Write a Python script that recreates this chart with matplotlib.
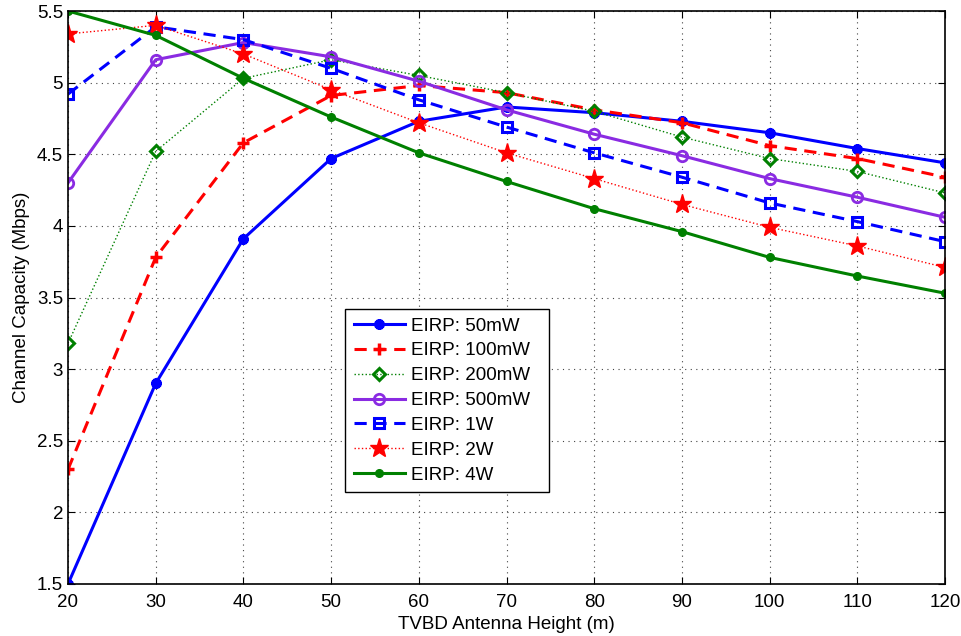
import numpy as np
import matplotlib.pyplot as plt

plt.rcParams['font.family'] = ['Liberation Sans', 'DejaVu Sans']

height = [20, 30, 40, 50, 60, 70, 80, 90, 100, 110, 120]

cap_50mw = [1.50, 2.90, 3.91, 4.47, 4.73, 4.83, 4.79, 4.73, 4.65, 4.54, 4.44]
cap_100mw = [2.30, 3.78, 4.58, 4.91, 4.98, 4.93, 4.81, 4.72, 4.56, 4.47, 4.34]
cap_200mw = [3.18, 4.52, 5.03, 5.16, 5.05, 4.93, 4.80, 4.62, 4.47, 4.38, 4.23]
cap_500mw = [4.30, 5.16, 5.28, 5.18, 5.01, 4.81, 4.64, 4.49, 4.33, 4.20, 4.06]
cap_1w = [4.92, 5.39, 5.30, 5.10, 4.88, 4.69, 4.51, 4.34, 4.16, 4.03, 3.89]
cap_2w = [5.34, 5.40, 5.20, 4.95, 4.72, 4.51, 4.33, 4.15, 3.99, 3.86, 3.71]
cap_4w = [5.50, 5.33, 5.03, 4.76, 4.51, 4.31, 4.12, 3.96, 3.78, 3.65, 3.53]

labels = ['EIRP: 50mW', 'EIRP: 100mW', 'EIRP: 200mW', 'EIRP: 500mW',
          'EIRP: 1W', 'EIRP: 2W', 'EIRP: 4W']

fig = plt.figure(figsize=(9.62, 6.36), dpi=100)
ax = fig.add_axes([68 / 962, 52 / 636, 877 / 962, 573 / 636])

lw = 2.2
# 50mW: asterisk-like marker on a solid blue line
ax.plot(height, cap_50mw, color='#0000ff', linestyle='-', linewidth=lw,
        marker=(8, 2, 0), markersize=7.5, markeredgewidth=2.5, label=labels[0])
ax.plot(height, cap_100mw, color='#ff0000', linestyle=(0, (4, 2.5)), linewidth=lw,
        marker='+', markersize=8, markeredgewidth=2.5, label=labels[1])
ax.plot(height, cap_200mw, color='#008000', linestyle=':', linewidth=1.0,
        marker='D', markersize=6.5, markerfacecolor='none', markeredgewidth=2.2,
        label=labels[2])
ax.plot(height, cap_500mw, color='#8a2be2', linestyle='-', linewidth=lw,
        marker='o', markersize=7.5, markerfacecolor='none', markeredgewidth=2.0,
        label=labels[3])
ax.plot(height, cap_1w, color='#0000ff', linestyle=(0, (4, 2.5)), linewidth=lw,
        marker='s', markersize=7, markerfacecolor='none', markeredgewidth=2.2,
        label=labels[4])
ax.plot(height, cap_2w, color='#ff0000', linestyle=':', linewidth=1.0,
        marker='*', markersize=14, label=labels[5])
ax.plot(height, cap_4w, color='#008000', linestyle='-', linewidth=lw,
        marker='o', markersize=5.5, label=labels[6])

ax.set_xlim(20, 120)
ax.set_ylim(1.5, 5.5)
ax.set_xticks(np.arange(20, 121, 10))
ax.set_yticks([1.5, 2, 2.5, 3, 3.5, 4, 4.5, 5, 5.5])
ax.set_yticklabels(['1.5', '2', '2.5', '3', '3.5', '4', '4.5', '5', '5.5'])
ax.tick_params(direction='in', labelsize=13.5, length=5, top=True, right=True)
ax.tick_params(axis='x', pad=7)
ax.grid(True, linestyle=(0, (1, 4)), color='#444444', linewidth=0.8)
for s in ax.spines.values():
    s.set_linewidth(1.2)

ax.set_xlabel('TVBD Antenna Height (m)', fontsize=13.5, labelpad=4)
ax.set_ylabel('Channel Capacity (Mbps)', fontsize=13.5, labelpad=5)

leg = ax.legend(loc='lower left', bbox_to_anchor=(0.316, 0.1606, 0.2326, 0),
                mode='expand', fontsize=13.5,
                fancybox=False, framealpha=1, edgecolor='black', borderaxespad=0,
                handlelength=2.75, handletextpad=0.3, borderpad=0.45,
                labelspacing=0.41)
leg.get_frame().set_linewidth(1.0)

plt.savefig('out.png', dpi=100)
